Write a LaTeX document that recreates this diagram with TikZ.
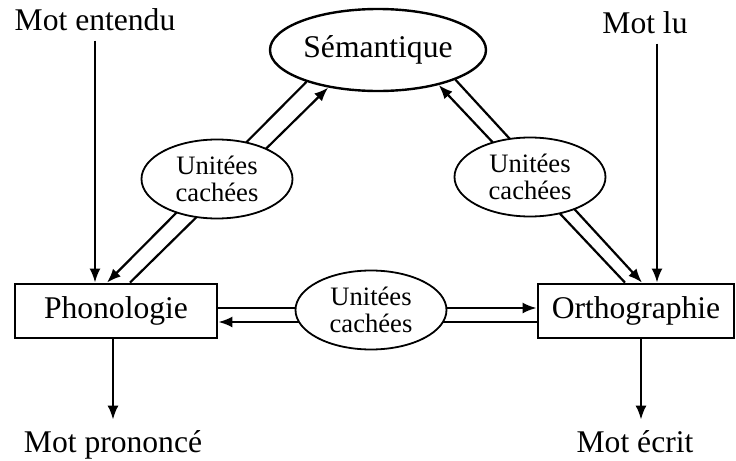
\documentclass[tikz,border=0pt]{standalone}
\usepackage{fontspec}
\setmainfont{Liberation Serif}
\usepackage{tikz}
\usetikzlibrary{arrows.meta,shapes.geometric}

\begin{document}
\begin{tikzpicture}[
  x=0.5pt, y=-0.5pt,
  word/.style={font=\fontsize{15.8}{18}\selectfont, anchor=base, inner sep=5pt},
  level/.style={draw, line width=1.4pt, minimum height=27pt, inner sep=0pt,
    font=\fontsize{15.8}{18}\selectfont},
  semnode/.style={draw, ellipse, line width=1.2pt, minimum width=108pt, minimum height=41pt,
    inner sep=0pt, font=\fontsize{15.8}{18}\selectfont},
  hidden/.style={draw, ellipse, fill=white, line width=0.9pt, minimum width=75.5pt,
    minimum height=39.5pt, inner sep=0pt, align=center, font=\fontsize{13.3}{13.3}\selectfont},
  arrow/.style={-{Latex[length=7pt,width=5.5pt]}, line width=1.1pt},
]
  \useasboundingbox (0,0) rectangle (736,461);

  \node[semnode] (sem) at (378,50) {Sémantique};
  \node[level, minimum width=101pt] (phono) at (116,311) {Phonologie};
  \node[level, minimum width=98pt] (ortho) at (636,311) {Orthographie};

  \node[word] (entendu) at (95,30) {Mot entendu};
  \node[word] (lu) at (645,33) {Mot lu};
  \node[word] (prononce) at (113,452) {Mot prononcé};
  \node[word] (ecrit) at (635,452) {Mot écrit};

  % entrées et sorties
  \draw[arrow] (entendu) -- (entendu |- phono.north);
  \draw[arrow] ([xshift=6pt]lu.south) -- ([xshift=6pt]lu.south |- ortho.north);
  \draw[arrow] (phono.south -| prononce) -- (prononce);
  \draw[arrow] ([xshift=3pt]ortho.south -| ecrit) -- ([xshift=3pt]ecrit.north);

  % liaisons doubles
  \draw[arrow] (sem.204) -- ([xshift=-4.5pt]phono.north);
  \draw[arrow] ([xshift=7pt]phono.north) -- (sem.217);
  \draw[arrow] ([xshift=-5.5pt]ortho.north) -- (sem.330);
  \draw[arrow] (sem.339) -- ([xshift=3pt]ortho.north);
  \draw[arrow] ([yshift=1.5pt]phono.east) -- ([yshift=1.5pt]ortho.west);
  \draw[arrow] ([yshift=-5.5pt]ortho.west) -- ([yshift=-5.5pt]phono.east);

  \node[hidden] (hidL) at (217,179) {Unitées\\cachées};
  \node[hidden] (hidR) at (530,177) {Unitées\\cachées};
  \node[hidden] (hidM) at (371,310) {Unitées\\cachées};
\end{tikzpicture}
\end{document}
